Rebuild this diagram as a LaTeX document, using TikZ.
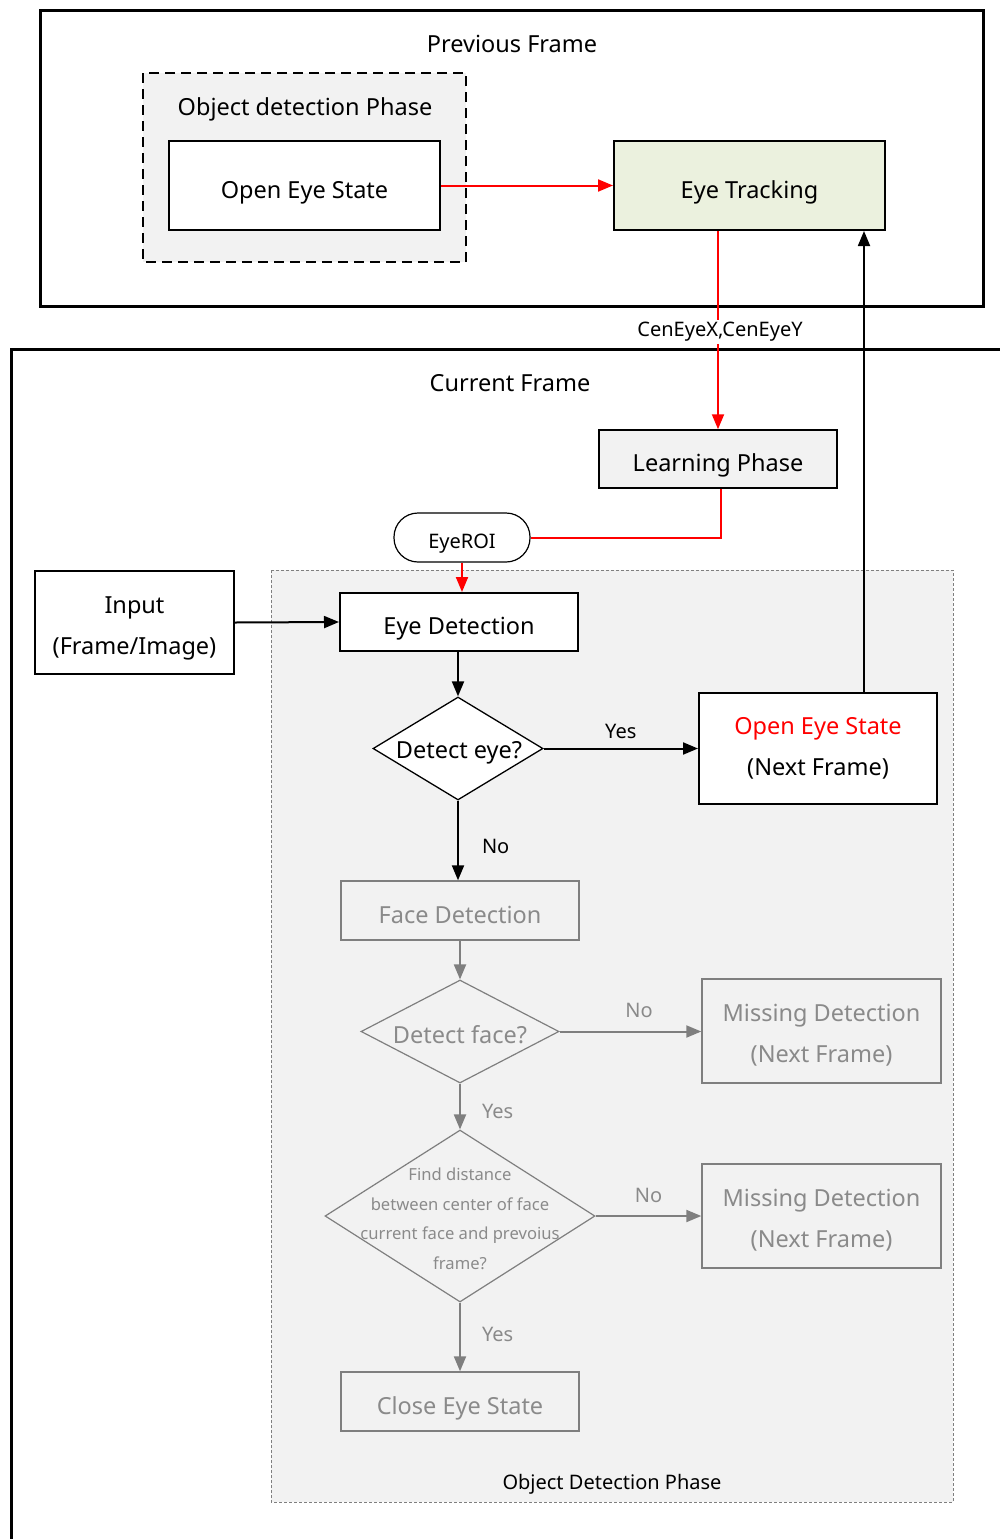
\documentclass[tikz,border=0pt]{standalone}
\usepackage{fontspec}
\setmainfont{Noto Sans}
\usetikzlibrary{arrows.meta,shapes.geometric}
\definecolor{panel}{HTML}{F2F2F2}
\definecolor{trackfill}{HTML}{EBF1DE}
\definecolor{dim}{HTML}{7F7F7F}
\definecolor{dimtext}{HTML}{8A8A8A}
\tikzset{
  frameline/.style={line width=3pt},
  oneline/.style={text height=25pt, text depth=0pt},
  twoline/.style={text height=63pt, text depth=0pt},
  box/.style={draw, line width=2pt, fill=white, inner sep=0pt, align=center,
    font=\fontsize{23.5}{41}\selectfont},
  dimbox/.style={draw=dim, line width=1.4pt, fill=panel, inner sep=0pt, align=center,
    text=dimtext, font=\fontsize{23.5}{41}\selectfont},
  decision/.style={draw, diamond, inner sep=0pt, line width=1.3pt, fill=white},
  dimdecision/.style={draw=dim, diamond, inner sep=0pt, line width=1.2pt, fill=panel},
  lbl/.style={inner sep=1pt, font=\fontsize{20}{24}\selectfont},
  bigtxt/.style={inner sep=1pt, font=\fontsize{23.5}{28}\selectfont},
  tip/.style={-{Triangle[length=15pt,width=12pt]}},
  flow/.style={tip, line width=2pt},
  redflow/.style={tip, line width=2pt, red},
  dimflow/.style={tip, line width=2pt, dim},
}
\begin{document}
\begin{tikzpicture}[x=1pt,y=-1pt]
\useasboundingbox (0,0) rectangle (1000,1539);
\fill[white] (0,0) rectangle (1000,1539);

% ---- previous frame ----
\draw[frameline] (40,10) rectangle (983,306);
\node[bigtxt] (prevtitle) at (512,44) {Previous Frame};
\draw[line width=2.5pt, dash pattern=on 10pt off 6pt, fill=panel] (143,73) rectangle (466,262);
\node[bigtxt] (odtitle) at (305,109) {Object detection Phase};
\node[box, oneline, minimum width=271, minimum height=89] (openprev) at (304.5,185.5) {Open Eye State};
\node[box, oneline, fill=trackfill, minimum width=271, minimum height=89] (track) at (749.5,185.5) {Eye Tracking};

% ---- current frame ----
\draw[frameline] (1003,349) -- (11,349) -- (11,1542);
\node[bigtxt] (curtitle) at (510,383) {Current Frame};

\draw[draw=dim, line width=1pt, dash pattern=on 3pt off 2pt, fill=panel] (271,570) rectangle (953,1502);
\node[lbl] (odp) at (612,1484) {Object Detection Phase};

\node[box, oneline, fill=panel, line width=1.5pt, minimum width=238, minimum height=58] (learn) at (718,459) {Learning Phase};
\node[draw, line width=1.2pt, fill=white, rounded corners=24pt, minimum width=136, minimum height=49, inner sep=0pt, text height=22pt, text depth=0pt, font=\fontsize{20}{24}\selectfont] (roi) at (462,537.5) {EyeROI};

\node[box, twoline, minimum width=199, minimum height=103] (input) at (134.5,622.5) {Input\\(Frame/Image)};
\node[box, oneline, minimum width=238, minimum height=58] (eyedet) at (459,622) {Eye Detection};

\node[decision, minimum width=170, minimum height=103] (deye) at (458,748.5) {};
\node[bigtxt] (deyetxt) at (459,753) {Detect eye?};

\node[box, text height=54pt, text depth=0pt, minimum width=238, minimum height=111] (opennext) at (818,748.5) {\textcolor{red}{Open Eye State}\\(Next Frame)};

\node[dimbox, oneline, minimum width=238, minimum height=59] (face) at (460,910.5) {Face Detection};
\node[dimdecision, minimum width=198, minimum height=103] (dface) at (460,1031.5) {};
\node[bigtxt, text=dimtext] (dfacetxt) at (460,1035) {Detect face?};
\node[dimbox, twoline, minimum width=239, minimum height=104] (miss1) at (821.5,1031) {Missing Detection\\(Next Frame)};

\node[dimdecision, minimum width=270, minimum height=172] (dist) at (460,1216) {};
\node[align=center, text=dimtext, inner sep=0pt, font=\fontsize{16.6}{29.5}\selectfont] (disttxt) at (460,1219) {Find distance\\between center of face\\current face and prevoius\\frame?};
\node[dimbox, twoline, minimum width=239, minimum height=104] (miss2) at (821.5,1216) {Missing Detection\\(Next Frame)};

\node[dimbox, oneline, minimum width=238, minimum height=59] (close) at (460,1401.5) {Close Eye State};

% ---- connectors ----
\coordinate (upx) at (864,0);
\draw[redflow] (openprev.east) -- (track.west);
\node[lbl, fill=white, inner sep=2pt] (cen) at (720,332) {CenEyeX,CenEyeY};
\draw[red, line width=2pt] (track.south -| learn.north) -- (cen.north -| learn.north);
\draw[redflow] (cen.south -| learn.north) -- (learn.north);
\draw[red, line width=2pt] ([xshift=3pt]learn.south) |- (roi.east);
\draw[redflow] (roi.south) -- (eyedet.north -| roi.south);

\draw[flow] (input.east) -- (eyedet.west);
\draw[flow] (eyedet.south -| deye.north) -- (deye.north);
\draw[flow] (deye.east) -- node[lbl, above=8pt] (yes1) {Yes} (deye.east -| opennext.west);
\draw[flow] (deye.south) -- node[lbl, right=22pt, pos=0.57] (no1) {No} (deye.south |- face.north);
\draw[flow, line width=1.8pt] (opennext.north -| upx) -- (track.south -| upx);

\draw[dimflow] (face.south) -- (dface.north);
\draw[dimflow] (dface.east) -- node[lbl, text=dimtext, above=12pt, pos=0.56] (no2) {No} (dface.east -| miss1.west);
\draw[dimflow] (dface.south) -- node[lbl, text=dimtext, right=20pt, pos=0.6] (yes2) {Yes} (dist.north);
\draw[dimflow] (dist.east) -- node[lbl, text=dimtext, above=11pt] (no3) {No} (dist.east -| miss2.west);
\draw[dimflow] (dist.south) -- node[lbl, text=dimtext, right=20pt, pos=0.47] (yes3) {Yes} (close.north);
\end{tikzpicture}
\end{document}
